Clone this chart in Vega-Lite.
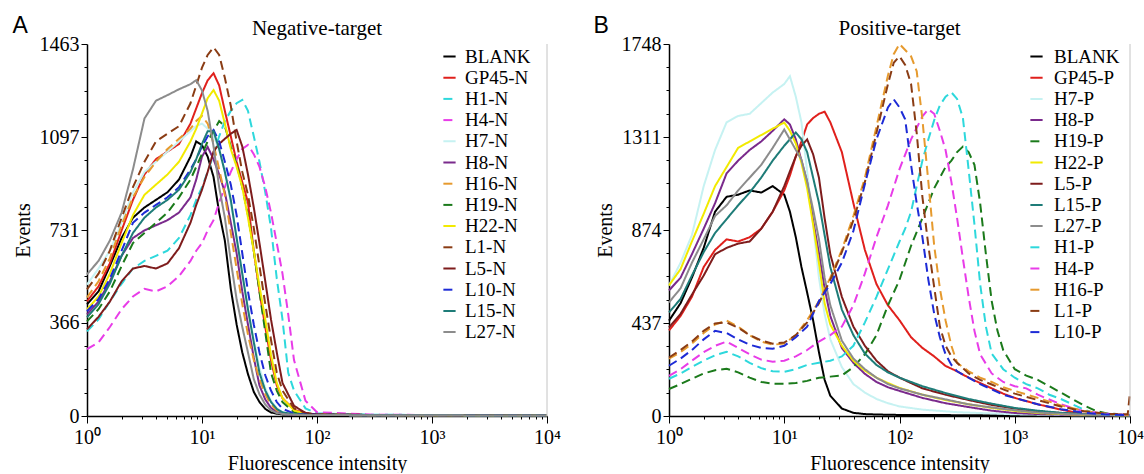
{
"$schema": "https://vega.github.io/schema/vega-lite/v6.json",
"padding": {"left": 12, "top": 14, "right": 0, "bottom": 0},
"background": "white",
"config": {
 "view": {"stroke": null},
 "axis": {"labelFont": "Liberation Serif", "titleFont": "Liberation Serif", "labelFontSize": 20, "titleFontSize": 20, "titleFontWeight": "normal", "labelColor": "#000", "titleColor": "#000", "domainColor": "#000", "tickColor": "#000", "grid": false, "domainWidth": 1.5, "tickWidth": 1},
 "title": {"font": "Liberation Serif", "fontSize": 21, "fontWeight": "normal", "color": "#000"}
},
"datasets": {
"neg": [
{"s":"BLANK","x":1,"y":439},{"s":"BLANK","x":1.26,"y":490},{"s":"BLANK","x":1.58,"y":590},{"s":"BLANK","x":2,"y":700},{"s":"BLANK","x":2.51,"y":780},{"s":"BLANK","x":3.16,"y":820},{"s":"BLANK","x":3.98,"y":850},{"s":"BLANK","x":5.01,"y":880},{"s":"BLANK","x":6.31,"y":930},{"s":"BLANK","x":7.94,"y":1020},{"s":"BLANK","x":8.91,"y":1080},{"s":"BLANK","x":10,"y":1065},{"s":"BLANK","x":11.2,"y":1020},{"s":"BLANK","x":12.6,"y":940},{"s":"BLANK","x":14.1,"y":800},{"s":"BLANK","x":15.8,"y":690},{"s":"BLANK","x":17.8,"y":500},{"s":"BLANK","x":20,"y":360},{"s":"BLANK","x":22.4,"y":250},{"s":"BLANK","x":25.1,"y":165},{"s":"BLANK","x":28.2,"y":95},{"s":"BLANK","x":31.6,"y":55},{"s":"BLANK","x":35.5,"y":28},{"s":"BLANK","x":39.8,"y":14},{"s":"BLANK","x":44.7,"y":9},{"s":"BLANK","x":50.1,"y":6},{"s":"BLANK","x":63.1,"y":5},{"s":"BLANK","x":79.4,"y":4},{"s":"BLANK","x":100,"y":4},{"s":"BLANK","x":316,"y":3},{"s":"BLANK","x":1000,"y":3},{"s":"BLANK","x":3162,"y":2},{"s":"BLANK","x":10000,"y":2},
{"s":"GP45-N","x":1,"y":451},{"s":"GP45-N","x":1.26,"y":510},{"s":"GP45-N","x":1.58,"y":600},{"s":"GP45-N","x":2,"y":730},{"s":"GP45-N","x":2.51,"y":850},{"s":"GP45-N","x":3.16,"y":950},{"s":"GP45-N","x":3.98,"y":1010},{"s":"GP45-N","x":5.01,"y":1040},{"s":"GP45-N","x":6.31,"y":1070},{"s":"GP45-N","x":7.94,"y":1150},{"s":"GP45-N","x":8.91,"y":1210},{"s":"GP45-N","x":10,"y":1270},{"s":"GP45-N","x":11.2,"y":1320},{"s":"GP45-N","x":12.6,"y":1348},{"s":"GP45-N","x":14.1,"y":1300},{"s":"GP45-N","x":15.8,"y":1200},{"s":"GP45-N","x":17.8,"y":1100},{"s":"GP45-N","x":20,"y":1000},{"s":"GP45-N","x":22.4,"y":920},{"s":"GP45-N","x":25.1,"y":840},{"s":"GP45-N","x":28.2,"y":650},{"s":"GP45-N","x":31.6,"y":490},{"s":"GP45-N","x":35.5,"y":350},{"s":"GP45-N","x":39.8,"y":220},{"s":"GP45-N","x":44.7,"y":120},{"s":"GP45-N","x":50.1,"y":70},{"s":"GP45-N","x":63.1,"y":25},{"s":"GP45-N","x":79.4,"y":10},{"s":"GP45-N","x":100,"y":6},{"s":"GP45-N","x":316,"y":4},{"s":"GP45-N","x":1000,"y":3},{"s":"GP45-N","x":3162,"y":3},{"s":"GP45-N","x":10000,"y":2},
{"s":"H1-N","x":1,"y":333},{"s":"H1-N","x":1.26,"y":380},{"s":"H1-N","x":1.58,"y":450},{"s":"H1-N","x":2,"y":520},{"s":"H1-N","x":2.51,"y":580},{"s":"H1-N","x":3.16,"y":610},{"s":"H1-N","x":3.98,"y":630},{"s":"H1-N","x":5.01,"y":650},{"s":"H1-N","x":6.31,"y":700},{"s":"H1-N","x":7.94,"y":790},{"s":"H1-N","x":8.91,"y":850},{"s":"H1-N","x":10,"y":900},{"s":"H1-N","x":11.2,"y":960},{"s":"H1-N","x":12.6,"y":1030},{"s":"H1-N","x":14.1,"y":1100},{"s":"H1-N","x":15.8,"y":1160},{"s":"H1-N","x":17.8,"y":1200},{"s":"H1-N","x":20,"y":1230},{"s":"H1-N","x":22.4,"y":1243},{"s":"H1-N","x":25.1,"y":1200},{"s":"H1-N","x":28.2,"y":1100},{"s":"H1-N","x":31.6,"y":1000},{"s":"H1-N","x":35.5,"y":880},{"s":"H1-N","x":39.8,"y":740},{"s":"H1-N","x":44.7,"y":540},{"s":"H1-N","x":50.1,"y":380},{"s":"H1-N","x":56.2,"y":170},{"s":"H1-N","x":63.1,"y":100},{"s":"H1-N","x":79.4,"y":30},{"s":"H1-N","x":100,"y":10},{"s":"H1-N","x":316,"y":5},{"s":"H1-N","x":1000,"y":4},{"s":"H1-N","x":3162,"y":3},{"s":"H1-N","x":10000,"y":2},
{"s":"H4-N","x":1,"y":263},{"s":"H4-N","x":1.26,"y":290},{"s":"H4-N","x":1.58,"y":350},{"s":"H4-N","x":2,"y":420},{"s":"H4-N","x":2.51,"y":470},{"s":"H4-N","x":3.16,"y":500},{"s":"H4-N","x":3.98,"y":490},{"s":"H4-N","x":5.01,"y":510},{"s":"H4-N","x":6.31,"y":550},{"s":"H4-N","x":7.94,"y":610},{"s":"H4-N","x":8.91,"y":650},{"s":"H4-N","x":10,"y":680},{"s":"H4-N","x":11.2,"y":730},{"s":"H4-N","x":12.6,"y":770},{"s":"H4-N","x":14.1,"y":840},{"s":"H4-N","x":15.8,"y":900},{"s":"H4-N","x":17.8,"y":960},{"s":"H4-N","x":20,"y":1010},{"s":"H4-N","x":22.4,"y":1050},{"s":"H4-N","x":25.1,"y":1066},{"s":"H4-N","x":28.2,"y":1030},{"s":"H4-N","x":31.6,"y":980},{"s":"H4-N","x":35.5,"y":900},{"s":"H4-N","x":39.8,"y":800},{"s":"H4-N","x":44.7,"y":680},{"s":"H4-N","x":50.1,"y":560},{"s":"H4-N","x":56.2,"y":400},{"s":"H4-N","x":63.1,"y":220},{"s":"H4-N","x":79.4,"y":60},{"s":"H4-N","x":100,"y":15},{"s":"H4-N","x":316,"y":5},{"s":"H4-N","x":1000,"y":4},{"s":"H4-N","x":3162,"y":3},{"s":"H4-N","x":10000,"y":2},
{"s":"H7-N","x":1,"y":517},{"s":"H7-N","x":1.26,"y":580},{"s":"H7-N","x":1.58,"y":650},{"s":"H7-N","x":2,"y":760},{"s":"H7-N","x":2.51,"y":880},{"s":"H7-N","x":3.16,"y":960},{"s":"H7-N","x":3.98,"y":1000},{"s":"H7-N","x":5.01,"y":1040},{"s":"H7-N","x":6.31,"y":1080},{"s":"H7-N","x":7.94,"y":1120},{"s":"H7-N","x":8.91,"y":1140},{"s":"H7-N","x":10,"y":1150},{"s":"H7-N","x":11.2,"y":1130},{"s":"H7-N","x":12.6,"y":1100},{"s":"H7-N","x":14.1,"y":1050},{"s":"H7-N","x":15.8,"y":960},{"s":"H7-N","x":17.8,"y":840},{"s":"H7-N","x":20,"y":700},{"s":"H7-N","x":22.4,"y":560},{"s":"H7-N","x":25.1,"y":420},{"s":"H7-N","x":28.2,"y":300},{"s":"H7-N","x":31.6,"y":190},{"s":"H7-N","x":35.5,"y":110},{"s":"H7-N","x":39.8,"y":60},{"s":"H7-N","x":44.7,"y":30},{"s":"H7-N","x":50.1,"y":15},{"s":"H7-N","x":63.1,"y":7},{"s":"H7-N","x":79.4,"y":5},{"s":"H7-N","x":100,"y":4},{"s":"H7-N","x":316,"y":3},{"s":"H7-N","x":1000,"y":3},{"s":"H7-N","x":3162,"y":2},{"s":"H7-N","x":10000,"y":2},
{"s":"H8-N","x":1,"y":400},{"s":"H8-N","x":1.26,"y":450},{"s":"H8-N","x":1.58,"y":530},{"s":"H8-N","x":2,"y":630},{"s":"H8-N","x":2.51,"y":700},{"s":"H8-N","x":3.16,"y":730},{"s":"H8-N","x":3.98,"y":750},{"s":"H8-N","x":5.01,"y":770},{"s":"H8-N","x":6.31,"y":800},{"s":"H8-N","x":7.94,"y":860},{"s":"H8-N","x":8.91,"y":930},{"s":"H8-N","x":10,"y":1020},{"s":"H8-N","x":11.2,"y":1058},{"s":"H8-N","x":12.6,"y":1010},{"s":"H8-N","x":14.1,"y":950},{"s":"H8-N","x":15.8,"y":880},{"s":"H8-N","x":17.8,"y":760},{"s":"H8-N","x":20,"y":640},{"s":"H8-N","x":22.4,"y":490},{"s":"H8-N","x":25.1,"y":360},{"s":"H8-N","x":28.2,"y":230},{"s":"H8-N","x":31.6,"y":120},{"s":"H8-N","x":35.5,"y":65},{"s":"H8-N","x":39.8,"y":32},{"s":"H8-N","x":44.7,"y":16},{"s":"H8-N","x":50.1,"y":9},{"s":"H8-N","x":63.1,"y":5},{"s":"H8-N","x":79.4,"y":4},{"s":"H8-N","x":100,"y":4},{"s":"H8-N","x":316,"y":3},{"s":"H8-N","x":1000,"y":3},{"s":"H8-N","x":3162,"y":2},{"s":"H8-N","x":10000,"y":2},
{"s":"H16-N","x":1,"y":466},{"s":"H16-N","x":1.26,"y":530},{"s":"H16-N","x":1.58,"y":620},{"s":"H16-N","x":2,"y":750},{"s":"H16-N","x":2.51,"y":860},{"s":"H16-N","x":3.16,"y":940},{"s":"H16-N","x":3.98,"y":1000},{"s":"H16-N","x":5.01,"y":1050},{"s":"H16-N","x":6.31,"y":1090},{"s":"H16-N","x":7.94,"y":1130},{"s":"H16-N","x":8.91,"y":1160},{"s":"H16-N","x":10,"y":1180},{"s":"H16-N","x":11.2,"y":1150},{"s":"H16-N","x":12.6,"y":1070},{"s":"H16-N","x":14.1,"y":970},{"s":"H16-N","x":15.8,"y":870},{"s":"H16-N","x":17.8,"y":720},{"s":"H16-N","x":20,"y":580},{"s":"H16-N","x":22.4,"y":440},{"s":"H16-N","x":25.1,"y":320},{"s":"H16-N","x":28.2,"y":220},{"s":"H16-N","x":31.6,"y":145},{"s":"H16-N","x":35.5,"y":85},{"s":"H16-N","x":39.8,"y":45},{"s":"H16-N","x":44.7,"y":22},{"s":"H16-N","x":50.1,"y":12},{"s":"H16-N","x":63.1,"y":6},{"s":"H16-N","x":79.4,"y":5},{"s":"H16-N","x":100,"y":4},{"s":"H16-N","x":316,"y":3},{"s":"H16-N","x":1000,"y":3},{"s":"H16-N","x":3162,"y":2},{"s":"H16-N","x":10000,"y":2},
{"s":"H19-N","x":1,"y":372},{"s":"H19-N","x":1.26,"y":420},{"s":"H19-N","x":1.58,"y":490},{"s":"H19-N","x":2,"y":590},{"s":"H19-N","x":2.51,"y":680},{"s":"H19-N","x":3.16,"y":720},{"s":"H19-N","x":3.98,"y":760},{"s":"H19-N","x":5.01,"y":800},{"s":"H19-N","x":6.31,"y":860},{"s":"H19-N","x":7.94,"y":930},{"s":"H19-N","x":8.91,"y":980},{"s":"H19-N","x":10,"y":1030},{"s":"H19-N","x":11.2,"y":1080},{"s":"H19-N","x":12.6,"y":1120},{"s":"H19-N","x":14.1,"y":1160},{"s":"H19-N","x":15.8,"y":1140},{"s":"H19-N","x":17.8,"y":1060},{"s":"H19-N","x":20,"y":990},{"s":"H19-N","x":22.4,"y":900},{"s":"H19-N","x":25.1,"y":790},{"s":"H19-N","x":28.2,"y":650},{"s":"H19-N","x":31.6,"y":490},{"s":"H19-N","x":35.5,"y":330},{"s":"H19-N","x":39.8,"y":170},{"s":"H19-N","x":44.7,"y":100},{"s":"H19-N","x":50.1,"y":55},{"s":"H19-N","x":63.1,"y":15},{"s":"H19-N","x":79.4,"y":6},{"s":"H19-N","x":100,"y":5},{"s":"H19-N","x":316,"y":4},{"s":"H19-N","x":1000,"y":3},{"s":"H19-N","x":3162,"y":3},{"s":"H19-N","x":10000,"y":2},
{"s":"H22-N","x":1,"y":419},{"s":"H22-N","x":1.26,"y":470},{"s":"H22-N","x":1.58,"y":560},{"s":"H22-N","x":2,"y":680},{"s":"H22-N","x":2.51,"y":790},{"s":"H22-N","x":3.16,"y":870},{"s":"H22-N","x":3.98,"y":910},{"s":"H22-N","x":5.01,"y":950},{"s":"H22-N","x":6.31,"y":1000},{"s":"H22-N","x":7.94,"y":1080},{"s":"H22-N","x":8.91,"y":1130},{"s":"H22-N","x":10,"y":1190},{"s":"H22-N","x":11.2,"y":1250},{"s":"H22-N","x":12.6,"y":1282},{"s":"H22-N","x":14.1,"y":1240},{"s":"H22-N","x":15.8,"y":1150},{"s":"H22-N","x":17.8,"y":1050},{"s":"H22-N","x":20,"y":980},{"s":"H22-N","x":22.4,"y":900},{"s":"H22-N","x":25.1,"y":780},{"s":"H22-N","x":28.2,"y":650},{"s":"H22-N","x":31.6,"y":510},{"s":"H22-N","x":35.5,"y":380},{"s":"H22-N","x":39.8,"y":240},{"s":"H22-N","x":44.7,"y":130},{"s":"H22-N","x":50.1,"y":70},{"s":"H22-N","x":63.1,"y":22},{"s":"H22-N","x":79.4,"y":8},{"s":"H22-N","x":100,"y":5},{"s":"H22-N","x":316,"y":4},{"s":"H22-N","x":1000,"y":3},{"s":"H22-N","x":3162,"y":2},{"s":"H22-N","x":10000,"y":2},
{"s":"L1-N","x":1,"y":498},{"s":"L1-N","x":1.26,"y":560},{"s":"L1-N","x":1.58,"y":650},{"s":"L1-N","x":2,"y":780},{"s":"L1-N","x":2.51,"y":900},{"s":"L1-N","x":3.16,"y":1000},{"s":"L1-N","x":3.98,"y":1080},{"s":"L1-N","x":5.01,"y":1110},{"s":"L1-N","x":6.31,"y":1140},{"s":"L1-N","x":7.94,"y":1230},{"s":"L1-N","x":8.91,"y":1300},{"s":"L1-N","x":10,"y":1370},{"s":"L1-N","x":11.2,"y":1420},{"s":"L1-N","x":12.6,"y":1450},{"s":"L1-N","x":14.1,"y":1420},{"s":"L1-N","x":15.8,"y":1330},{"s":"L1-N","x":17.8,"y":1220},{"s":"L1-N","x":20,"y":1080},{"s":"L1-N","x":22.4,"y":960},{"s":"L1-N","x":25.1,"y":870},{"s":"L1-N","x":28.2,"y":740},{"s":"L1-N","x":31.6,"y":590},{"s":"L1-N","x":35.5,"y":440},{"s":"L1-N","x":39.8,"y":300},{"s":"L1-N","x":44.7,"y":170},{"s":"L1-N","x":50.1,"y":100},{"s":"L1-N","x":63.1,"y":30},{"s":"L1-N","x":79.4,"y":12},{"s":"L1-N","x":100,"y":6},{"s":"L1-N","x":316,"y":4},{"s":"L1-N","x":1000,"y":3},{"s":"L1-N","x":3162,"y":3},{"s":"L1-N","x":10000,"y":2},
{"s":"L5-N","x":1,"y":341},{"s":"L5-N","x":1.26,"y":390},{"s":"L5-N","x":1.58,"y":450},{"s":"L5-N","x":2,"y":530},{"s":"L5-N","x":2.51,"y":580},{"s":"L5-N","x":3.16,"y":590},{"s":"L5-N","x":3.98,"y":580},{"s":"L5-N","x":5.01,"y":600},{"s":"L5-N","x":6.31,"y":660},{"s":"L5-N","x":7.94,"y":760},{"s":"L5-N","x":8.91,"y":830},{"s":"L5-N","x":10,"y":890},{"s":"L5-N","x":11.2,"y":960},{"s":"L5-N","x":12.6,"y":1040},{"s":"L5-N","x":14.1,"y":1070},{"s":"L5-N","x":15.8,"y":1090},{"s":"L5-N","x":17.8,"y":1110},{"s":"L5-N","x":20,"y":1125},{"s":"L5-N","x":22.4,"y":1060},{"s":"L5-N","x":25.1,"y":950},{"s":"L5-N","x":28.2,"y":820},{"s":"L5-N","x":31.6,"y":680},{"s":"L5-N","x":35.5,"y":530},{"s":"L5-N","x":39.8,"y":380},{"s":"L5-N","x":44.7,"y":250},{"s":"L5-N","x":50.1,"y":130},{"s":"L5-N","x":63.1,"y":40},{"s":"L5-N","x":79.4,"y":12},{"s":"L5-N","x":100,"y":6},{"s":"L5-N","x":316,"y":4},{"s":"L5-N","x":1000,"y":3},{"s":"L5-N","x":3162,"y":3},{"s":"L5-N","x":10000,"y":2},
{"s":"L10-N","x":1,"y":412},{"s":"L10-N","x":1.26,"y":460},{"s":"L10-N","x":1.58,"y":540},{"s":"L10-N","x":2,"y":650},{"s":"L10-N","x":2.51,"y":760},{"s":"L10-N","x":3.16,"y":800},{"s":"L10-N","x":3.98,"y":830},{"s":"L10-N","x":5.01,"y":860},{"s":"L10-N","x":6.31,"y":900},{"s":"L10-N","x":7.94,"y":970},{"s":"L10-N","x":8.91,"y":1010},{"s":"L10-N","x":10,"y":1060},{"s":"L10-N","x":11.2,"y":1100},{"s":"L10-N","x":12.6,"y":1125},{"s":"L10-N","x":14.1,"y":1080},{"s":"L10-N","x":15.8,"y":1000},{"s":"L10-N","x":17.8,"y":910},{"s":"L10-N","x":20,"y":790},{"s":"L10-N","x":22.4,"y":640},{"s":"L10-N","x":25.1,"y":490},{"s":"L10-N","x":28.2,"y":360},{"s":"L10-N","x":31.6,"y":250},{"s":"L10-N","x":35.5,"y":160},{"s":"L10-N","x":39.8,"y":100},{"s":"L10-N","x":44.7,"y":55},{"s":"L10-N","x":50.1,"y":28},{"s":"L10-N","x":63.1,"y":10},{"s":"L10-N","x":79.4,"y":6},{"s":"L10-N","x":100,"y":5},{"s":"L10-N","x":316,"y":4},{"s":"L10-N","x":1000,"y":3},{"s":"L10-N","x":3162,"y":2},{"s":"L10-N","x":10000,"y":2},
{"s":"L15-N","x":1,"y":388},{"s":"L15-N","x":1.26,"y":440},{"s":"L15-N","x":1.58,"y":520},{"s":"L15-N","x":2,"y":630},{"s":"L15-N","x":2.51,"y":720},{"s":"L15-N","x":3.16,"y":780},{"s":"L15-N","x":3.98,"y":820},{"s":"L15-N","x":5.01,"y":850},{"s":"L15-N","x":6.31,"y":890},{"s":"L15-N","x":7.94,"y":960},{"s":"L15-N","x":8.91,"y":1010},{"s":"L15-N","x":10,"y":1070},{"s":"L15-N","x":11.2,"y":1120},{"s":"L15-N","x":12.6,"y":1120},{"s":"L15-N","x":14.1,"y":1050},{"s":"L15-N","x":15.8,"y":960},{"s":"L15-N","x":17.8,"y":850},{"s":"L15-N","x":20,"y":700},{"s":"L15-N","x":22.4,"y":560},{"s":"L15-N","x":25.1,"y":420},{"s":"L15-N","x":28.2,"y":290},{"s":"L15-N","x":31.6,"y":170},{"s":"L15-N","x":35.5,"y":100},{"s":"L15-N","x":39.8,"y":55},{"s":"L15-N","x":44.7,"y":28},{"s":"L15-N","x":50.1,"y":14},{"s":"L15-N","x":63.1,"y":7},{"s":"L15-N","x":79.4,"y":5},{"s":"L15-N","x":100,"y":4},{"s":"L15-N","x":316,"y":3},{"s":"L15-N","x":1000,"y":3},{"s":"L15-N","x":3162,"y":2},{"s":"L15-N","x":10000,"y":2},
{"s":"L27-N","x":1,"y":557},{"s":"L27-N","x":1.26,"y":610},{"s":"L27-N","x":1.58,"y":690},{"s":"L27-N","x":2,"y":800},{"s":"L27-N","x":2.51,"y":970},{"s":"L27-N","x":3.16,"y":1170},{"s":"L27-N","x":3.98,"y":1240},{"s":"L27-N","x":5.01,"y":1262},{"s":"L27-N","x":6.31,"y":1285},{"s":"L27-N","x":7.94,"y":1305},{"s":"L27-N","x":8.91,"y":1321},{"s":"L27-N","x":10,"y":1280},{"s":"L27-N","x":11.2,"y":1200},{"s":"L27-N","x":12.6,"y":1060},{"s":"L27-N","x":14.1,"y":900},{"s":"L27-N","x":15.8,"y":780},{"s":"L27-N","x":17.8,"y":610},{"s":"L27-N","x":20,"y":459},{"s":"L27-N","x":22.4,"y":350},{"s":"L27-N","x":25.1,"y":250},{"s":"L27-N","x":28.2,"y":145},{"s":"L27-N","x":31.6,"y":85},{"s":"L27-N","x":35.5,"y":45},{"s":"L27-N","x":39.8,"y":22},{"s":"L27-N","x":44.7,"y":12},{"s":"L27-N","x":50.1,"y":8},{"s":"L27-N","x":63.1,"y":5},{"s":"L27-N","x":79.4,"y":4},{"s":"L27-N","x":100,"y":4},{"s":"L27-N","x":316,"y":3},{"s":"L27-N","x":1000,"y":3},{"s":"L27-N","x":3162,"y":2},{"s":"L27-N","x":10000,"y":2}
],
"pos": [
{"s":"BLANK","x":1,"y":448},{"s":"BLANK","x":1.26,"y":530},{"s":"BLANK","x":1.58,"y":650},{"s":"BLANK","x":2,"y":790},{"s":"BLANK","x":2.51,"y":960},{"s":"BLANK","x":3.16,"y":1030},{"s":"BLANK","x":3.98,"y":1040},{"s":"BLANK","x":5.01,"y":1060},{"s":"BLANK","x":6.31,"y":1050},{"s":"BLANK","x":7.94,"y":1080},{"s":"BLANK","x":10,"y":1040},{"s":"BLANK","x":11.2,"y":960},{"s":"BLANK","x":12.6,"y":840},{"s":"BLANK","x":14.1,"y":700},{"s":"BLANK","x":15.8,"y":580},{"s":"BLANK","x":17.8,"y":450},{"s":"BLANK","x":20,"y":300},{"s":"BLANK","x":22.4,"y":170},{"s":"BLANK","x":25.1,"y":95},{"s":"BLANK","x":31.6,"y":35},{"s":"BLANK","x":39.8,"y":15},{"s":"BLANK","x":50.1,"y":9},{"s":"BLANK","x":63.1,"y":7},{"s":"BLANK","x":100,"y":5},{"s":"BLANK","x":316,"y":4},{"s":"BLANK","x":1000,"y":3},{"s":"BLANK","x":3162,"y":2},{"s":"BLANK","x":10000,"y":2},
{"s":"GP45-P","x":1,"y":402},{"s":"GP45-P","x":1.26,"y":470},{"s":"GP45-P","x":1.58,"y":560},{"s":"GP45-P","x":2,"y":700},{"s":"GP45-P","x":2.51,"y":780},{"s":"GP45-P","x":3.16,"y":830},{"s":"GP45-P","x":3.98,"y":820},{"s":"GP45-P","x":5.01,"y":840},{"s":"GP45-P","x":6.31,"y":880},{"s":"GP45-P","x":7.94,"y":960},{"s":"GP45-P","x":10,"y":1060},{"s":"GP45-P","x":11.2,"y":1130},{"s":"GP45-P","x":12.6,"y":1220},{"s":"GP45-P","x":14.1,"y":1290},{"s":"GP45-P","x":15.8,"y":1370},{"s":"GP45-P","x":17.8,"y":1400},{"s":"GP45-P","x":20,"y":1420},{"s":"GP45-P","x":22.4,"y":1430},{"s":"GP45-P","x":25.1,"y":1380},{"s":"GP45-P","x":31.6,"y":1240},{"s":"GP45-P","x":39.8,"y":1000},{"s":"GP45-P","x":50.1,"y":780},{"s":"GP45-P","x":63.1,"y":620},{"s":"GP45-P","x":79.4,"y":520},{"s":"GP45-P","x":100,"y":450},{"s":"GP45-P","x":126,"y":370},{"s":"GP45-P","x":158,"y":320},{"s":"GP45-P","x":200,"y":280},{"s":"GP45-P","x":251,"y":235},{"s":"GP45-P","x":316,"y":210},{"s":"GP45-P","x":398,"y":180},{"s":"GP45-P","x":501,"y":155},{"s":"GP45-P","x":631,"y":130},{"s":"GP45-P","x":794,"y":105},{"s":"GP45-P","x":1000,"y":85},{"s":"GP45-P","x":1585,"y":55},{"s":"GP45-P","x":2512,"y":30},{"s":"GP45-P","x":3981,"y":10},{"s":"GP45-P","x":6310,"y":6},{"s":"GP45-P","x":10000,"y":4},
{"s":"H7-P","x":1,"y":614},{"s":"H7-P","x":1.26,"y":720},{"s":"H7-P","x":1.58,"y":850},{"s":"H7-P","x":2,"y":1080},{"s":"H7-P","x":2.51,"y":1250},{"s":"H7-P","x":3.16,"y":1380},{"s":"H7-P","x":3.98,"y":1410},{"s":"H7-P","x":5.01,"y":1420},{"s":"H7-P","x":6.31,"y":1470},{"s":"H7-P","x":7.94,"y":1520},{"s":"H7-P","x":10,"y":1560},{"s":"H7-P","x":11.2,"y":1597},{"s":"H7-P","x":12.6,"y":1500},{"s":"H7-P","x":14.1,"y":1380},{"s":"H7-P","x":15.8,"y":1150},{"s":"H7-P","x":17.8,"y":900},{"s":"H7-P","x":20,"y":650},{"s":"H7-P","x":22.4,"y":480},{"s":"H7-P","x":25.1,"y":360},{"s":"H7-P","x":31.6,"y":230},{"s":"H7-P","x":39.8,"y":150},{"s":"H7-P","x":50.1,"y":110},{"s":"H7-P","x":63.1,"y":80},{"s":"H7-P","x":79.4,"y":60},{"s":"H7-P","x":100,"y":45},{"s":"H7-P","x":158,"y":30},{"s":"H7-P","x":316,"y":18},{"s":"H7-P","x":1000,"y":8},{"s":"H7-P","x":3162,"y":4},{"s":"H7-P","x":10000,"y":3},
{"s":"H8-P","x":1,"y":590},{"s":"H8-P","x":1.26,"y":650},{"s":"H8-P","x":1.58,"y":760},{"s":"H8-P","x":2,"y":880},{"s":"H8-P","x":2.51,"y":1000},{"s":"H8-P","x":3.16,"y":1140},{"s":"H8-P","x":3.98,"y":1200},{"s":"H8-P","x":5.01,"y":1250},{"s":"H8-P","x":6.31,"y":1290},{"s":"H8-P","x":7.94,"y":1340},{"s":"H8-P","x":10,"y":1394},{"s":"H8-P","x":11.2,"y":1370},{"s":"H8-P","x":12.6,"y":1300},{"s":"H8-P","x":14.1,"y":1200},{"s":"H8-P","x":15.8,"y":1100},{"s":"H8-P","x":17.8,"y":920},{"s":"H8-P","x":20,"y":765},{"s":"H8-P","x":22.4,"y":600},{"s":"H8-P","x":25.1,"y":470},{"s":"H8-P","x":31.6,"y":320},{"s":"H8-P","x":39.8,"y":250},{"s":"H8-P","x":50.1,"y":198},{"s":"H8-P","x":63.1,"y":160},{"s":"H8-P","x":79.4,"y":135},{"s":"H8-P","x":100,"y":118},{"s":"H8-P","x":158,"y":85},{"s":"H8-P","x":251,"y":60},{"s":"H8-P","x":398,"y":42},{"s":"H8-P","x":631,"y":25},{"s":"H8-P","x":1000,"y":14},{"s":"H8-P","x":1585,"y":9},{"s":"H8-P","x":3162,"y":5},{"s":"H8-P","x":10000,"y":3},
{"s":"H19-P","x":1,"y":127},{"s":"H19-P","x":1.26,"y":150},{"s":"H19-P","x":1.58,"y":175},{"s":"H19-P","x":2,"y":200},{"s":"H19-P","x":2.51,"y":215},{"s":"H19-P","x":3.16,"y":222},{"s":"H19-P","x":3.98,"y":205},{"s":"H19-P","x":5.01,"y":180},{"s":"H19-P","x":6.31,"y":160},{"s":"H19-P","x":7.94,"y":152},{"s":"H19-P","x":10,"y":151},{"s":"H19-P","x":12.6,"y":155},{"s":"H19-P","x":15.8,"y":165},{"s":"H19-P","x":20,"y":180},{"s":"H19-P","x":25.1,"y":185},{"s":"H19-P","x":31.6,"y":190},{"s":"H19-P","x":39.8,"y":230},{"s":"H19-P","x":50.1,"y":290},{"s":"H19-P","x":63.1,"y":380},{"s":"H19-P","x":79.4,"y":520},{"s":"H19-P","x":100,"y":640},{"s":"H19-P","x":126,"y":800},{"s":"H19-P","x":158,"y":930},{"s":"H19-P","x":200,"y":1070},{"s":"H19-P","x":251,"y":1170},{"s":"H19-P","x":282,"y":1200},{"s":"H19-P","x":316,"y":1240},{"s":"H19-P","x":355,"y":1266},{"s":"H19-P","x":398,"y":1240},{"s":"H19-P","x":447,"y":1180},{"s":"H19-P","x":501,"y":1000},{"s":"H19-P","x":562,"y":760},{"s":"H19-P","x":631,"y":540},{"s":"H19-P","x":708,"y":400},{"s":"H19-P","x":794,"y":310},{"s":"H19-P","x":1000,"y":220},{"s":"H19-P","x":1259,"y":190},{"s":"H19-P","x":1585,"y":170},{"s":"H19-P","x":1995,"y":140},{"s":"H19-P","x":2512,"y":110},{"s":"H19-P","x":3162,"y":80},{"s":"H19-P","x":3981,"y":50},{"s":"H19-P","x":5012,"y":25},{"s":"H19-P","x":6310,"y":12},{"s":"H19-P","x":10000,"y":5},
{"s":"H22-P","x":1,"y":614},{"s":"H22-P","x":1.26,"y":690},{"s":"H22-P","x":1.58,"y":820},{"s":"H22-P","x":2,"y":950},{"s":"H22-P","x":2.51,"y":1080},{"s":"H22-P","x":3.16,"y":1170},{"s":"H22-P","x":3.98,"y":1260},{"s":"H22-P","x":5.01,"y":1290},{"s":"H22-P","x":6.31,"y":1320},{"s":"H22-P","x":7.94,"y":1350},{"s":"H22-P","x":10,"y":1379},{"s":"H22-P","x":11.2,"y":1340},{"s":"H22-P","x":12.6,"y":1280},{"s":"H22-P","x":14.1,"y":1190},{"s":"H22-P","x":15.8,"y":1070},{"s":"H22-P","x":17.8,"y":900},{"s":"H22-P","x":20,"y":720},{"s":"H22-P","x":22.4,"y":529},{"s":"H22-P","x":25.1,"y":430},{"s":"H22-P","x":31.6,"y":330},{"s":"H22-P","x":39.8,"y":260},{"s":"H22-P","x":50.1,"y":213},{"s":"H22-P","x":63.1,"y":180},{"s":"H22-P","x":79.4,"y":155},{"s":"H22-P","x":100,"y":132},{"s":"H22-P","x":158,"y":100},{"s":"H22-P","x":251,"y":75},{"s":"H22-P","x":398,"y":55},{"s":"H22-P","x":631,"y":38},{"s":"H22-P","x":1000,"y":24},{"s":"H22-P","x":1585,"y":14},{"s":"H22-P","x":3162,"y":7},{"s":"H22-P","x":10000,"y":3},
{"s":"L5-P","x":1,"y":416},{"s":"L5-P","x":1.26,"y":480},{"s":"L5-P","x":1.58,"y":570},{"s":"L5-P","x":2,"y":660},{"s":"L5-P","x":2.51,"y":760},{"s":"L5-P","x":3.16,"y":790},{"s":"L5-P","x":3.98,"y":810},{"s":"L5-P","x":5.01,"y":820},{"s":"L5-P","x":6.31,"y":880},{"s":"L5-P","x":7.94,"y":960},{"s":"L5-P","x":10,"y":1080},{"s":"L5-P","x":11.2,"y":1150},{"s":"L5-P","x":12.6,"y":1220},{"s":"L5-P","x":14.1,"y":1270},{"s":"L5-P","x":15.8,"y":1300},{"s":"L5-P","x":17.8,"y":1230},{"s":"L5-P","x":20,"y":1120},{"s":"L5-P","x":22.4,"y":930},{"s":"L5-P","x":25.1,"y":760},{"s":"L5-P","x":31.6,"y":560},{"s":"L5-P","x":39.8,"y":420},{"s":"L5-P","x":50.1,"y":330},{"s":"L5-P","x":63.1,"y":260},{"s":"L5-P","x":79.4,"y":210},{"s":"L5-P","x":100,"y":180},{"s":"L5-P","x":158,"y":130},{"s":"L5-P","x":251,"y":100},{"s":"L5-P","x":398,"y":75},{"s":"L5-P","x":631,"y":52},{"s":"L5-P","x":1000,"y":35},{"s":"L5-P","x":1585,"y":22},{"s":"L5-P","x":2512,"y":14},{"s":"L5-P","x":3981,"y":9},{"s":"L5-P","x":6310,"y":6},{"s":"L5-P","x":10000,"y":4},
{"s":"L15-P","x":1,"y":487},{"s":"L15-P","x":1.26,"y":550},{"s":"L15-P","x":1.58,"y":660},{"s":"L15-P","x":2,"y":770},{"s":"L15-P","x":2.51,"y":860},{"s":"L15-P","x":3.16,"y":925},{"s":"L15-P","x":3.98,"y":990},{"s":"L15-P","x":5.01,"y":1050},{"s":"L15-P","x":6.31,"y":1120},{"s":"L15-P","x":7.94,"y":1200},{"s":"L15-P","x":10,"y":1270},{"s":"L15-P","x":11.2,"y":1300},{"s":"L15-P","x":12.6,"y":1332},{"s":"L15-P","x":14.1,"y":1300},{"s":"L15-P","x":15.8,"y":1240},{"s":"L15-P","x":17.8,"y":1120},{"s":"L15-P","x":20,"y":1002},{"s":"L15-P","x":22.4,"y":850},{"s":"L15-P","x":25.1,"y":700},{"s":"L15-P","x":31.6,"y":500},{"s":"L15-P","x":39.8,"y":380},{"s":"L15-P","x":50.1,"y":293},{"s":"L15-P","x":63.1,"y":240},{"s":"L15-P","x":79.4,"y":205},{"s":"L15-P","x":100,"y":180},{"s":"L15-P","x":158,"y":140},{"s":"L15-P","x":251,"y":108},{"s":"L15-P","x":398,"y":80},{"s":"L15-P","x":631,"y":58},{"s":"L15-P","x":1000,"y":38},{"s":"L15-P","x":1585,"y":25},{"s":"L15-P","x":2512,"y":15},{"s":"L15-P","x":3981,"y":9},{"s":"L15-P","x":6310,"y":5},{"s":"L15-P","x":10000,"y":3},
{"s":"L27-P","x":1,"y":534},{"s":"L27-P","x":1.26,"y":600},{"s":"L27-P","x":1.58,"y":720},{"s":"L27-P","x":2,"y":830},{"s":"L27-P","x":2.51,"y":940},{"s":"L27-P","x":3.16,"y":990},{"s":"L27-P","x":3.98,"y":1060},{"s":"L27-P","x":5.01,"y":1120},{"s":"L27-P","x":6.31,"y":1180},{"s":"L27-P","x":7.94,"y":1260},{"s":"L27-P","x":10,"y":1346},{"s":"L27-P","x":11.2,"y":1300},{"s":"L27-P","x":12.6,"y":1250},{"s":"L27-P","x":14.1,"y":1205},{"s":"L27-P","x":15.8,"y":1100},{"s":"L27-P","x":17.8,"y":970},{"s":"L27-P","x":20,"y":830},{"s":"L27-P","x":22.4,"y":650},{"s":"L27-P","x":25.1,"y":520},{"s":"L27-P","x":31.6,"y":354},{"s":"L27-P","x":39.8,"y":270},{"s":"L27-P","x":50.1,"y":220},{"s":"L27-P","x":63.1,"y":180},{"s":"L27-P","x":79.4,"y":150},{"s":"L27-P","x":100,"y":130},{"s":"L27-P","x":158,"y":100},{"s":"L27-P","x":251,"y":78},{"s":"L27-P","x":398,"y":55},{"s":"L27-P","x":631,"y":40},{"s":"L27-P","x":1000,"y":27},{"s":"L27-P","x":1585,"y":16},{"s":"L27-P","x":3162,"y":8},{"s":"L27-P","x":10000,"y":3},
{"s":"H1-P","x":1,"y":175},{"s":"H1-P","x":1.26,"y":200},{"s":"H1-P","x":1.58,"y":230},{"s":"H1-P","x":2,"y":260},{"s":"H1-P","x":2.51,"y":285},{"s":"H1-P","x":3.16,"y":302},{"s":"H1-P","x":3.98,"y":280},{"s":"H1-P","x":5.01,"y":250},{"s":"H1-P","x":6.31,"y":225},{"s":"H1-P","x":7.94,"y":210},{"s":"H1-P","x":10,"y":208},{"s":"H1-P","x":12.6,"y":220},{"s":"H1-P","x":15.8,"y":240},{"s":"H1-P","x":20,"y":250},{"s":"H1-P","x":25.1,"y":260},{"s":"H1-P","x":31.6,"y":280},{"s":"H1-P","x":39.8,"y":330},{"s":"H1-P","x":50.1,"y":440},{"s":"H1-P","x":63.1,"y":560},{"s":"H1-P","x":79.4,"y":690},{"s":"H1-P","x":100,"y":820},{"s":"H1-P","x":112,"y":880},{"s":"H1-P","x":126,"y":960},{"s":"H1-P","x":141,"y":1080},{"s":"H1-P","x":158,"y":1200},{"s":"H1-P","x":178,"y":1300},{"s":"H1-P","x":200,"y":1390},{"s":"H1-P","x":224,"y":1460},{"s":"H1-P","x":251,"y":1500},{"s":"H1-P","x":282,"y":1521},{"s":"H1-P","x":316,"y":1490},{"s":"H1-P","x":355,"y":1400},{"s":"H1-P","x":398,"y":1157},{"s":"H1-P","x":447,"y":900},{"s":"H1-P","x":501,"y":620},{"s":"H1-P","x":562,"y":420},{"s":"H1-P","x":631,"y":293},{"s":"H1-P","x":794,"y":220},{"s":"H1-P","x":1000,"y":180},{"s":"H1-P","x":1259,"y":150},{"s":"H1-P","x":1585,"y":130},{"s":"H1-P","x":1995,"y":100},{"s":"H1-P","x":2512,"y":80},{"s":"H1-P","x":3162,"y":55},{"s":"H1-P","x":3981,"y":30},{"s":"H1-P","x":5012,"y":12},{"s":"H1-P","x":6310,"y":7},{"s":"H1-P","x":10000,"y":4},
{"s":"H4-P","x":1,"y":189},{"s":"H4-P","x":1.26,"y":220},{"s":"H4-P","x":1.58,"y":260},{"s":"H4-P","x":2,"y":300},{"s":"H4-P","x":2.51,"y":330},{"s":"H4-P","x":3.16,"y":350},{"s":"H4-P","x":3.98,"y":320},{"s":"H4-P","x":5.01,"y":290},{"s":"H4-P","x":6.31,"y":265},{"s":"H4-P","x":7.94,"y":255},{"s":"H4-P","x":10,"y":260},{"s":"H4-P","x":12.6,"y":280},{"s":"H4-P","x":15.8,"y":310},{"s":"H4-P","x":20,"y":350},{"s":"H4-P","x":25.1,"y":380},{"s":"H4-P","x":31.6,"y":420},{"s":"H4-P","x":39.8,"y":520},{"s":"H4-P","x":50.1,"y":670},{"s":"H4-P","x":63.1,"y":840},{"s":"H4-P","x":79.4,"y":990},{"s":"H4-P","x":100,"y":1160},{"s":"H4-P","x":126,"y":1300},{"s":"H4-P","x":158,"y":1408},{"s":"H4-P","x":178,"y":1441},{"s":"H4-P","x":200,"y":1420},{"s":"H4-P","x":224,"y":1340},{"s":"H4-P","x":251,"y":1250},{"s":"H4-P","x":282,"y":1100},{"s":"H4-P","x":316,"y":930},{"s":"H4-P","x":355,"y":740},{"s":"H4-P","x":398,"y":560},{"s":"H4-P","x":447,"y":400},{"s":"H4-P","x":501,"y":290},{"s":"H4-P","x":631,"y":200},{"s":"H4-P","x":794,"y":160},{"s":"H4-P","x":1000,"y":140},{"s":"H4-P","x":1259,"y":130},{"s":"H4-P","x":1585,"y":100},{"s":"H4-P","x":2512,"y":55},{"s":"H4-P","x":3981,"y":22},{"s":"H4-P","x":6310,"y":10},{"s":"H4-P","x":10000,"y":5},
{"s":"H16-P","x":1,"y":269},{"s":"H16-P","x":1.26,"y":300},{"s":"H16-P","x":1.58,"y":340},{"s":"H16-P","x":2,"y":390},{"s":"H16-P","x":2.51,"y":430},{"s":"H16-P","x":3.16,"y":449},{"s":"H16-P","x":3.98,"y":420},{"s":"H16-P","x":5.01,"y":380},{"s":"H16-P","x":6.31,"y":350},{"s":"H16-P","x":7.94,"y":335},{"s":"H16-P","x":10,"y":340},{"s":"H16-P","x":12.6,"y":380},{"s":"H16-P","x":15.8,"y":450},{"s":"H16-P","x":20,"y":540},{"s":"H16-P","x":25.1,"y":650},{"s":"H16-P","x":31.6,"y":780},{"s":"H16-P","x":39.8,"y":940},{"s":"H16-P","x":50.1,"y":1120},{"s":"H16-P","x":63.1,"y":1360},{"s":"H16-P","x":79.4,"y":1600},{"s":"H16-P","x":89.1,"y":1700},{"s":"H16-P","x":100,"y":1748},{"s":"H16-P","x":112,"y":1720},{"s":"H16-P","x":126,"y":1690},{"s":"H16-P","x":141,"y":1620},{"s":"H16-P","x":158,"y":1394},{"s":"H16-P","x":178,"y":1100},{"s":"H16-P","x":200,"y":800},{"s":"H16-P","x":224,"y":600},{"s":"H16-P","x":251,"y":449},{"s":"H16-P","x":282,"y":330},{"s":"H16-P","x":316,"y":250},{"s":"H16-P","x":398,"y":210},{"s":"H16-P","x":501,"y":180},{"s":"H16-P","x":631,"y":160},{"s":"H16-P","x":794,"y":135},{"s":"H16-P","x":1000,"y":118},{"s":"H16-P","x":1585,"y":85},{"s":"H16-P","x":2512,"y":50},{"s":"H16-P","x":3981,"y":24},{"s":"H16-P","x":6310,"y":10},{"s":"H16-P","x":10000,"y":5},
{"s":"L1-P","x":1,"y":275},{"s":"L1-P","x":1.26,"y":310},{"s":"L1-P","x":1.58,"y":350},{"s":"L1-P","x":2,"y":400},{"s":"L1-P","x":2.51,"y":435},{"s":"L1-P","x":3.16,"y":440},{"s":"L1-P","x":3.98,"y":415},{"s":"L1-P","x":5.01,"y":380},{"s":"L1-P","x":6.31,"y":355},{"s":"L1-P","x":7.94,"y":340},{"s":"L1-P","x":10,"y":345},{"s":"L1-P","x":12.6,"y":380},{"s":"L1-P","x":15.8,"y":440},{"s":"L1-P","x":20,"y":530},{"s":"L1-P","x":25.1,"y":640},{"s":"L1-P","x":31.6,"y":770},{"s":"L1-P","x":39.8,"y":920},{"s":"L1-P","x":50.1,"y":1100},{"s":"L1-P","x":63.1,"y":1330},{"s":"L1-P","x":79.4,"y":1560},{"s":"L1-P","x":89.1,"y":1660},{"s":"L1-P","x":100,"y":1690},{"s":"L1-P","x":112,"y":1650},{"s":"L1-P","x":126,"y":1560},{"s":"L1-P","x":141,"y":1330},{"s":"L1-P","x":158,"y":1030},{"s":"L1-P","x":178,"y":800},{"s":"L1-P","x":200,"y":605},{"s":"L1-P","x":224,"y":420},{"s":"L1-P","x":251,"y":330},{"s":"L1-P","x":282,"y":280},{"s":"L1-P","x":316,"y":250},{"s":"L1-P","x":398,"y":200},{"s":"L1-P","x":501,"y":170},{"s":"L1-P","x":631,"y":148},{"s":"L1-P","x":794,"y":125},{"s":"L1-P","x":1000,"y":105},{"s":"L1-P","x":1585,"y":75},{"s":"L1-P","x":2512,"y":45},{"s":"L1-P","x":3981,"y":22},{"s":"L1-P","x":6310,"y":10},{"s":"L1-P","x":9550,"y":8},{"s":"L1-P","x":10000,"y":110},
{"s":"L10-P","x":1,"y":236},{"s":"L10-P","x":1.26,"y":270},{"s":"L10-P","x":1.58,"y":310},{"s":"L10-P","x":2,"y":360},{"s":"L10-P","x":2.51,"y":400},{"s":"L10-P","x":3.16,"y":390},{"s":"L10-P","x":3.98,"y":360},{"s":"L10-P","x":5.01,"y":335},{"s":"L10-P","x":6.31,"y":320},{"s":"L10-P","x":7.94,"y":316},{"s":"L10-P","x":10,"y":330},{"s":"L10-P","x":12.6,"y":370},{"s":"L10-P","x":15.8,"y":420},{"s":"L10-P","x":20,"y":540},{"s":"L10-P","x":25.1,"y":620},{"s":"L10-P","x":31.6,"y":720},{"s":"L10-P","x":39.8,"y":870},{"s":"L10-P","x":50.1,"y":1090},{"s":"L10-P","x":63.1,"y":1300},{"s":"L10-P","x":79.4,"y":1450},{"s":"L10-P","x":89.1,"y":1488},{"s":"L10-P","x":100,"y":1450},{"s":"L10-P","x":112,"y":1394},{"s":"L10-P","x":126,"y":1180},{"s":"L10-P","x":141,"y":1000},{"s":"L10-P","x":158,"y":841},{"s":"L10-P","x":178,"y":640},{"s":"L10-P","x":200,"y":480},{"s":"L10-P","x":224,"y":370},{"s":"L10-P","x":251,"y":290},{"s":"L10-P","x":282,"y":240},{"s":"L10-P","x":316,"y":210},{"s":"L10-P","x":398,"y":180},{"s":"L10-P","x":501,"y":150},{"s":"L10-P","x":631,"y":125},{"s":"L10-P","x":794,"y":100},{"s":"L10-P","x":1000,"y":85},{"s":"L10-P","x":1585,"y":55},{"s":"L10-P","x":2512,"y":32},{"s":"L10-P","x":3981,"y":15},{"s":"L10-P","x":6310,"y":7},{"s":"L10-P","x":10000,"y":4}
]
},
"spacing": 32,
"resolve": {"scale": {"color": "independent", "strokeDash": "independent", "strokeWidth": "independent", "x": "independent", "y": "independent"}, "legend": {"color": "independent"}},
"hconcat": [
{
 "width": 460, "height": 372,
 "title": {"text": "Negative-target", "frame": "group", "offset": -25},
 "resolve": {"axis": {"x": "independent"}},
 "layer": [
  {
   "data": {"name": "neg"},
   "mark": {"type": "line"},
   "encoding": {
    "x": {"field": "x", "type": "quantitative", "title": "Fluorescence intensity",
      "scale": {"type": "log", "domain": [1, 10000], "nice": false},
      "axis": {"values": [1,2,3,4,5,6,7,8,9,10,20,30,40,50,60,70,80,90,100,200,300,400,500,600,700,800,900,1000,2000,3000,4000,5000,6000,7000,8000,9000,10000],
        "labelExpr": "datum.value == 1 ? '10⁰' : datum.value == 10 ? '10¹' : datum.value == 100 ? '10²' : datum.value == 1000 ? '10³' : datum.value == 10000 ? '10⁴' : ''",
        "tickSize": {"condition": {"test": "indexof([1,10,100,1000,10000], datum.value) >= 0", "value": 7}, "value": 3},
        "labelOverlap": false, "labelFlush": false, "labelPadding": 4, "titlePadding": 6}},
    "y": {"field": "y", "type": "quantitative", "title": "Events",
      "scale": {"domain": [0, 1463], "nice": false},
      "axis": {"values": [0,91,183,274,366,457,549,640,731,823,914,1006,1097,1189,1280,1372,1463],
        "labelExpr": "indexof([0,366,731,1097,1463], datum.value) >= 0 ? format(datum.value, 'd') : ''",
        "tickSize": {"condition": {"test": "indexof([0,366,731,1097,1463], datum.value) >= 0", "value": 6}, "value": 3},
        "labelOverlap": false, "labelFlush": false, "labelPadding": 2, "titlePadding": 6}},
    "color": {"field": "s", "type": "nominal",
      "scale": {"domain": ["BLANK","GP45-N","H1-N","H4-N","H7-N","H8-N","H16-N","H19-N","H22-N","L1-N","L5-N","L10-N","L15-N","L27-N"],
        "range": ["#000000","#e0201c","#2ed8dc","#e83ce8","#c6f2f2","#7a2a8c","#e69a2e","#1b7a1b","#f2ea00","#8a3c14","#7e1c1c","#1d2bd6","#1e7c78","#8c8c8c"]},
      "legend": {"orient": "none", "legendX": 353, "legendY": 3, "title": null, "labelFont": "Liberation Serif", "labelFontSize": 19, "labelColor": "#000", "symbolType": "stroke", "symbolSize": 150, "symbolStrokeWidth": 2, "rowPadding": 1.2, "labelOffset": 6, "padding": 0}},
    "strokeDash": {"field": "s", "type": "nominal",
      "scale": {"domain": ["BLANK","GP45-N","H1-N","H4-N","H7-N","H8-N","H16-N","H19-N","H22-N","L1-N","L5-N","L10-N","L15-N","L27-N"],
        "range": [[1,0],[1,0],[9,5],[9,5],[1,0],[1,0],[9,5],[9,5],[1,0],[9,5],[1,0],[9,5],[1,0],[1,0]]},
      "legend": null},
    "strokeWidth": {"field": "s", "type": "nominal",
      "scale": {"domain": ["BLANK","GP45-N","H1-N","H4-N","H7-N","H8-N","H16-N","H19-N","H22-N","L1-N","L5-N","L10-N","L15-N","L27-N"],
        "range": [2,2,3,3,2,2,3,3,2,3,2,3,2,2]},
      "legend": null}
   }
  },
  {
   "data": {"values": [{"edge": 10000}]},
   "mark": {"type": "rule", "color": "#c4c4c4", "strokeWidth": 1},
   "encoding": {
    "x": {"field": "edge", "type": "quantitative",
      "scale": {"type": "log", "domain": [1, 10000], "nice": false},
      "axis": {"orient": "top", "title": "A", "domain": false, "ticks": false, "labels": false,
        "titleX": -75, "titleY": -12, "titleAlign": "left", "titleBaseline": "alphabetic", "titleAngle": 0,
        "titleFont": "Liberation Sans", "titleFontSize": 23, "titleFontWeight": "normal"}}
   }
  }
 ]
},
{
 "width": 461, "height": 372,
 "title": {"text": "Positive-target", "frame": "group", "offset": -25},
 "resolve": {"axis": {"x": "independent"}},
 "layer": [
  {
   "data": {"name": "pos"},
   "mark": {"type": "line"},
   "encoding": {
    "x": {"field": "x", "type": "quantitative", "title": "Fluorescence intensity",
      "scale": {"type": "log", "domain": [1, 10000], "nice": false},
      "axis": {"values": [1,2,3,4,5,6,7,8,9,10,20,30,40,50,60,70,80,90,100,200,300,400,500,600,700,800,900,1000,2000,3000,4000,5000,6000,7000,8000,9000,10000],
        "labelExpr": "datum.value == 1 ? '10⁰' : datum.value == 10 ? '10¹' : datum.value == 100 ? '10²' : datum.value == 1000 ? '10³' : datum.value == 10000 ? '10⁴' : ''",
        "tickSize": {"condition": {"test": "indexof([1,10,100,1000,10000], datum.value) >= 0", "value": 7}, "value": 3},
        "labelOverlap": false, "labelFlush": false, "labelPadding": 4, "titlePadding": 6}},
    "y": {"field": "y", "type": "quantitative", "title": "Events",
      "scale": {"domain": [0, 1748], "nice": false},
      "axis": {"values": [0,109,219,328,437,546,656,765,874,983,1093,1202,1311,1420,1530,1639,1748],
        "labelExpr": "indexof([0,437,874,1311,1748], datum.value) >= 0 ? format(datum.value, 'd') : ''",
        "tickSize": {"condition": {"test": "indexof([0,437,874,1311,1748], datum.value) >= 0", "value": 6}, "value": 3},
        "labelOverlap": false, "labelFlush": false, "labelPadding": 2, "titlePadding": 6}},
    "color": {"field": "s", "type": "nominal",
      "scale": {"domain": ["BLANK","GP45-P","H7-P","H8-P","H19-P","H22-P","L5-P","L15-P","L27-P","H1-P","H4-P","H16-P","L1-P","L10-P"],
        "range": ["#000000","#e0201c","#c6f2f2","#7a2a8c","#1b7a1b","#f2ea00","#7e1c1c","#1e7c78","#8c8c8c","#2ed8dc","#e83ce8","#e69a2e","#8a3c14","#1d2bd6"]},
      "legend": {"orient": "none", "legendX": 358, "legendY": 3, "title": null, "labelFont": "Liberation Serif", "labelFontSize": 19, "labelColor": "#000", "symbolType": "stroke", "symbolSize": 150, "symbolStrokeWidth": 2, "rowPadding": 1.2, "labelOffset": 8, "padding": 0}},
    "strokeDash": {"field": "s", "type": "nominal",
      "scale": {"domain": ["BLANK","GP45-P","H7-P","H8-P","H19-P","H22-P","L5-P","L15-P","L27-P","H1-P","H4-P","H16-P","L1-P","L10-P"],
        "range": [[1,0],[1,0],[1,0],[1,0],[9,5],[1,0],[1,0],[1,0],[1,0],[9,5],[9,5],[9,5],[9,5],[9,5]]},
      "legend": null},
    "strokeWidth": {"field": "s", "type": "nominal",
      "scale": {"domain": ["BLANK","GP45-P","H7-P","H8-P","H19-P","H22-P","L5-P","L15-P","L27-P","H1-P","H4-P","H16-P","L1-P","L10-P"],
        "range": [2,2,2,2,3,2,2,2,2,3,3,3,3,3]},
      "legend": null}
   }
  },
  {
   "data": {"values": [{"edge": 10000}]},
   "mark": {"type": "rule", "color": "#c4c4c4", "strokeWidth": 1},
   "encoding": {
    "x": {"field": "edge", "type": "quantitative",
      "scale": {"type": "log", "domain": [1, 10000], "nice": false},
      "axis": {"orient": "top", "title": "B", "domain": false, "ticks": false, "labels": false,
        "titleX": -76, "titleY": -12, "titleAlign": "left", "titleBaseline": "alphabetic", "titleAngle": 0,
        "titleFont": "Liberation Sans", "titleFontSize": 23, "titleFontWeight": "normal"}}
   }
  }
 ]
}
]
}
